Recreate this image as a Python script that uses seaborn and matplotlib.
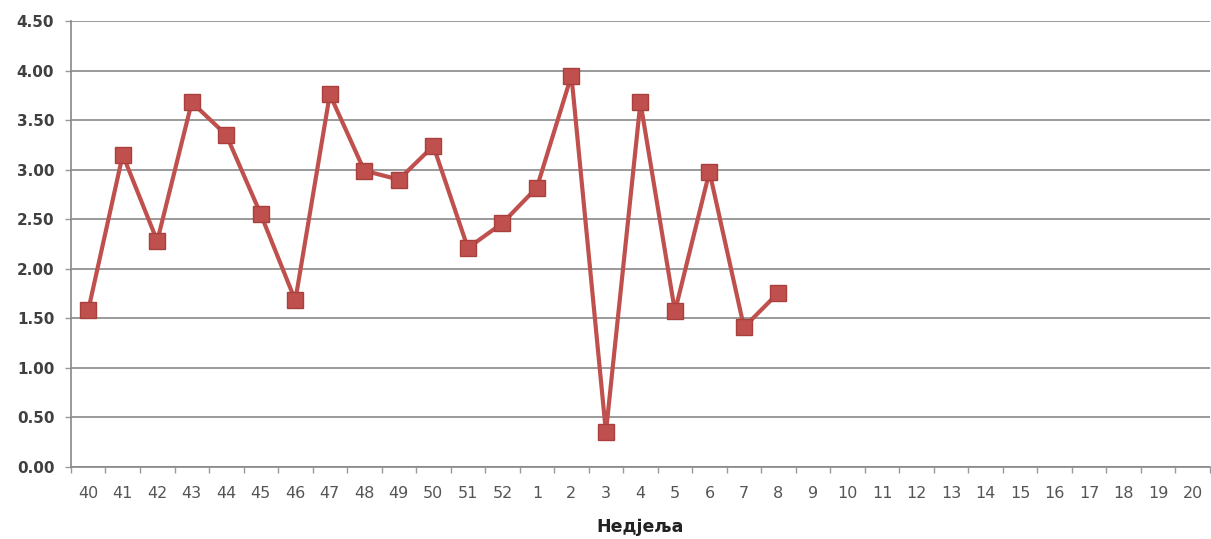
import matplotlib
matplotlib.use("Agg")
import matplotlib.pyplot as plt
import numpy as np
import pandas as pd
import seaborn as sns

WEEKS = ["40", "41", "42", "43", "44", "45", "46", "47", "48", "49", "50", "51", "52",
         "1", "2", "3", "4", "5", "6", "7", "8", "9", "10", "11", "12", "13", "14",
         "15", "16", "17", "18", "19", "20"]
VALUES = [1.58, 3.15, 2.28, 3.68, 3.35, 2.55, 1.68, 3.76, 2.99, 2.90, 3.24, 2.21,
          2.46, 2.82, 3.95, 0.35, 3.68, 1.57, 2.98, 1.41, 1.76]
Y_TICKS = [0.0, 0.5, 1.0, 1.5, 2.0, 2.5, 3.0, 3.5, 4.0, 4.5]
X_LABEL = "Недјеља"

LINE_COLOR = "#C0504D"
EDGE_COLOR = "#A8403D"
GRID_COLOR = "#9A9A9A"
TEXT_COLOR = "#404040"


def main() -> None:
    sns.set_theme(style="white")
    plt.rcParams["font.family"] = ["DejaVu Sans"]

    df = pd.DataFrame({"pos": np.arange(len(VALUES)), "value": VALUES})

    fig = plt.figure(figsize=(12.11, 5.39), dpi=100)
    ax = fig.add_axes([0.0586, 0.1336, 0.9405, 0.8274])

    sns.lineplot(
        data=df,
        x="pos",
        y="value",
        color=LINE_COLOR,
        linewidth=3.0,
        marker="s",
        markersize=12,
        markerfacecolor=LINE_COLOR,
        markeredgecolor=EDGE_COLOR,
        markeredgewidth=1.0,
        ax=ax,
        zorder=3,
    )

    ax.set_xlim(-0.5, len(WEEKS) - 0.5)
    ax.set_ylim(0, 4.5)
    ax.set_yticks(Y_TICKS)
    ax.set_yticklabels([f"{v:.2f}" for v in Y_TICKS], fontsize=11, fontweight="bold", color=TEXT_COLOR)
    ax.set_xticks(np.arange(len(WEEKS)))
    ax.set_xticklabels(WEEKS, fontsize=11.5, color="#555555")
    ax.set_xticks(np.arange(len(WEEKS) + 1) - 0.5, minor=True)

    ax.yaxis.grid(True, color=GRID_COLOR, linewidth=1.4)
    ax.xaxis.grid(False)
    ax.set_axisbelow(True)

    for side in ["top", "right"]:
        ax.spines[side].set_visible(False)
    ax.spines["left"].set_color("#888888")
    ax.spines["bottom"].set_color("#888888")
    ax.spines["left"].set_linewidth(1.2)
    ax.spines["bottom"].set_linewidth(1.2)

    ax.tick_params(axis="x", which="major", length=0, pad=14)
    ax.tick_params(axis="x", which="minor", length=4, color="#999999", width=1.0, bottom=True)
    ax.tick_params(axis="y", which="major", length=4, color="#999999", width=1.0, left=True, pad=8)

    ax.set_xlabel(X_LABEL, fontsize=12.5, fontweight="bold", color="#222222", labelpad=12)
    ax.set_ylabel("")

    fig.savefig("out.png", dpi=100)
    plt.close(fig)


if __name__ == "__main__":
    main()
